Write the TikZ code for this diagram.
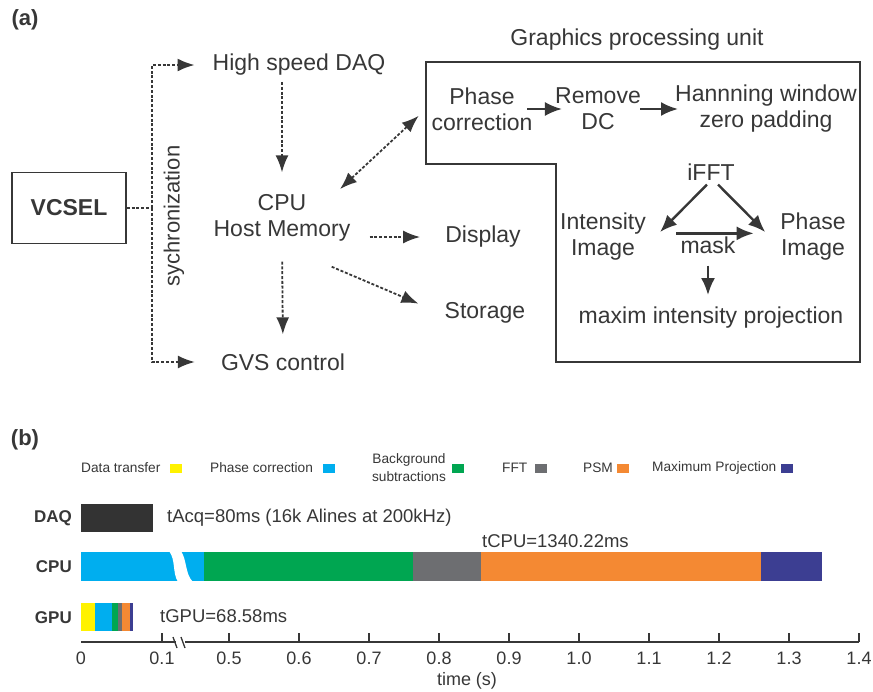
\documentclass[tikz,border=0pt]{standalone}
\usepackage{fontspec}
\setmainfont{Liberation Sans}
\usepackage{tikz}
\usetikzlibrary{positioning,calc,arrows.meta}
\definecolor{inkgray}{RGB}{55,55,55}
\definecolor{daqgray}{RGB}{51,51,51}
\definecolor{baryellow}{RGB}{255,242,0}
\definecolor{barblue}{RGB}{0,174,239}
\definecolor{bargreen}{RGB}{0,166,81}
\definecolor{bargray}{RGB}{109,110,113}
\definecolor{barorange}{RGB}{244,137,51}
\definecolor{barnavy}{RGB}{60,62,146}

\begin{document}
\begin{tikzpicture}[x=1pt, y=-1pt,
  txt/.style={font=\fontsize{23}{26}\selectfont, text=inkgray, align=center, inner sep=4pt},
  box/.style={txt, draw=inkgray, line width=1.5pt, minimum width=114pt, minimum height=71pt, font=\fontsize{23}{26}\selectfont\bfseries},
  tag/.style={font=\fontsize{22}{26}\selectfont\bfseries, text=inkgray},
  dashline/.style={draw=inkgray, line width=1.8pt, dash pattern=on 3pt off 1.8pt},
  dasharrow/.style={dashline, -{Latex[length=17pt,width=13pt]}},
  dblarrow/.style={dashline, {Latex[length=17pt,width=13pt]}-{Latex[length=17pt,width=13pt]}},
  arrow/.style={draw=inkgray, line width=2.4pt, -{Latex[length=17pt,width=14pt]}},
  small/.style={font=\fontsize{13.7}{18}\selectfont, text=inkgray, inner sep=0pt, anchor=west},
  legsq/.style={fill=#1, minimum width=12pt, minimum height=9pt, inner sep=0pt},
  barlbl/.style={font=\fontsize{17}{20}\selectfont\bfseries, text=inkgray, anchor=east, inner sep=0pt},
  note/.style={font=\fontsize{18.5}{22}\selectfont, text=inkgray, anchor=west, inner sep=0pt},
  ticklbl/.style={font=\fontsize{18}{21}\selectfont, text=inkgray, inner sep=0pt},
  axisline/.style={draw=inkgray, line width=1.3pt}
]
  \useasboundingbox (0,0) rectangle (873,691);

  % (a) data flow
  \node[tag] (taga) at (25,20) {(a)};
  \node[box] (vcsel) at (69,208) {VCSEL};
  \node[txt] (daq) at (299,65) {High speed DAQ};
  \node[txt] (cpu) at (282,218) {CPU\\Host Memory};
  \node[txt] (disp) at (483,237) {Display};
  \node[txt] (stor) at (485,313) {Storage};
  \node[txt] (gvs) at (283,362) {GVS control};
  \node[txt, rotate=90, font=\fontsize{22}{26}\selectfont] (sync) at (174,216) {sychronization};

  \coordinate (syncpt) at (152,208);
  \draw[dashline] (vcsel.east) -- (syncpt);
  \draw[dasharrow, shorten >=14pt] (syncpt) |- (daq.west);
  \draw[dasharrow, shorten >=22pt] (syncpt) |- (gvs.west);
  \draw[dasharrow, shorten <=2pt, shorten >=18pt] (daq.south -| cpu) -- (cpu.north);
  \draw[dasharrow, shorten <=16pt, shorten >=15pt] (cpu.south) -- (gvs.north);
  \draw[dasharrow, shorten <=15pt, shorten >=21pt] (disp.west -| cpu.east) -- (disp.west);
  \draw[dasharrow, shorten <=54pt, shorten >=24pt] (cpu.south) -- (stor.west);

  % graphics processing unit
  \draw[line width=1.5pt, draw=inkgray] (426,62) coordinate (gtl) -- (860,62) -- (860,362)
    -- (556,362) -- (556,164) -- (426,164) -- cycle;
  \node[txt] (gputitle) at (637,40) {Graphics processing unit};
  \draw[dblarrow, shorten <=2pt, shorten >=10pt] ([xshift=-16pt]cpu.north east) -- (gtl |- 0,109);

  \node[txt] (phase) at (482,109) {Phase\\correction};
  \node[txt] (rmdc) at (598,109) {Remove\\DC};
  \node[txt] (hann) at (766,109) {Hannning window\\zero padding};
  \node[txt] (ifft) at (711,172) {iFFT};
  \node[txt] (intimg) at (603,237) {Intensity\\Image};
  \node[txt] (phimg) at (813,237) {Phase\\Image};
  \node[txt] (mask) at (708,245) {mask};
  \node[txt] (mip) at (711,318) {maxim intensity projection};

  \draw[arrow, shorten <=-9.5pt, shorten >=-11pt] (phase.east) -- (rmdc.west);
  \draw[arrow, shorten <=-5pt, shorten >=-7pt] (rmdc.east) -- (hann.west);
  \draw[arrow] ([xshift=-4pt]ifft.south) -- ([xshift=10pt,yshift=5pt]intimg.east);
  \draw[arrow] ([xshift=7pt]ifft.south) -- ([xshift=-11pt,yshift=5pt]phimg.west);
  \draw[arrow] ([yshift=-1pt]mask.north west) -- ([xshift=14pt,yshift=-1pt]mask.north east);
  \draw[arrow, shorten <=8pt, shorten >=8pt] (mask.south) -- (mask.south |- mip.north);

  % (b) timing
  \node[tag] (tagb) at (25,440) {(b)};
  \node[small] (legtr) at (81,468) {Data transfer};
  \node[legsq=baryellow, right=9pt of legtr] (sqtr) {};
  \node[small] (legpc) at (210,468) {Phase correction};
  \node[legsq=barblue, right=10pt of legpc] (sqpc) {};
  \node[small, align=center, anchor=center] (legbg) at (409,468) {Background\\subtractions};
  \node[legsq=bargreen, right=6pt of legbg] (sqbg) {};
  \node[small] (legfft) at (502,468) {FFT};
  \node[legsq=bargray, right=7pt of legfft] (sqfft) {};
  \node[small] (legpsm) at (583,468) {PSM};
  \node[legsq=barorange, right=4pt of legpsm] (sqpsm) {};
  \node[small] (legmp) at (652,468) {Maximum Projection};
  \node[legsq=barnavy, right=4pt of legmp] (sqmp) {};

  \node[barlbl] (lbldaq) at (72,518) {DAQ};
  \node[barlbl] (lblcpu) at (72,567) {CPU};
  \node[barlbl] (lblgpu) at (72,618) {GPU};

  \fill[daqgray] (81,504) rectangle (153,532);
  \node[note] (tacq) at (167,518) {tAcq=80ms (16k Alines at 200kHz)};

  \fill[barblue] (81,552) rectangle (204,581);
  \fill[white] (169,551) .. controls (176,560) and (172,572) .. (178,582) -- (193,582)
    .. controls (185,574) and (187,560) .. (181,551) -- cycle;
  \fill[bargreen] (204,552) rectangle (413,581);
  \fill[bargray] (413,552) rectangle (481,581);
  \fill[barorange] (481,552) rectangle (761,581);
  \fill[barnavy] (761,552) rectangle (822,581);
  \node[note] (tcpu) at (482,541) {tCPU=1340.22ms};

  \fill[baryellow] (81,603) rectangle (95,631);
  \fill[barblue] (95,603) rectangle (112,631);
  \fill[bargreen] (112,603) rectangle (118,631);
  \fill[bargray] (118,603) rectangle (122,631);
  \fill[barorange] (122,603) rectangle (130,631);
  \fill[barnavy] (130,603) rectangle (133,631);
  \node[note] (tgpu) at (160,616) {tGPU=68.58ms};

  % time axis with break
  \draw[axisline] (81,642) -- (176,642);
  \draw[axisline] (185,642) -- (859,642);
  \draw[axisline] (173,637) -- (177,648);
  \draw[axisline] (181,637) -- (185,648);
  \node[ticklbl] (tick0) at (81,658) {0};
  \foreach \xpos/\val in {162/0.1, 229/0.5, 299/0.6, 369/0.7, 439/0.8, 509/0.9, 579/1.0, 649/1.1, 719/1.2, 789/1.3, 859/1.4} {
    \draw[axisline] (\xpos,642) -- (\xpos,633);
    \node[ticklbl] (tick\xpos) at (\xpos,658) {\val};
  }
  \node[ticklbl] (taxis) at (467,681) {time (s)};
\end{tikzpicture}
\end{document}
